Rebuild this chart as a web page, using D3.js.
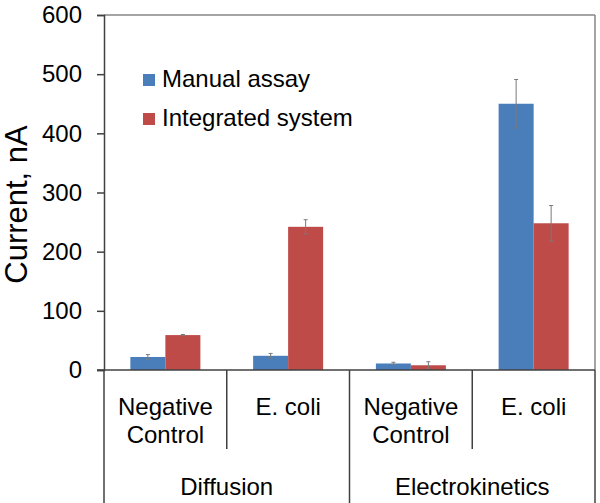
<!DOCTYPE html>
<html><head><meta charset="utf-8">
<script src="https://cdn.jsdelivr.net/npm/d3@7"></script>
<style>body{margin:0;background:#fff}svg{display:block}text{font-family:Arial,"Liberation Sans",sans-serif;fill:#000}</style>
</head><body>
<svg id="c" width="600" height="503"></svg>
<script>
const groups = ["Diffusion", "Electrokinetics"];
const categories = [["Negative", "Control"], ["E. coli"], ["Negative", "Control"], ["E. coli"]];
const seriesNames = ["Manual assay", "Integrated system"];
const manual = [22, 24, 11, 450];
const manualErr = [4, 4, 2, 41];
const integrated = [59, 242, 8, 248];
const integratedErr = [1, 12, 6, 30];
const yTicks = [0, 100, 200, 300, 400, 500, 600];
const colors = ["#4a7ebb", "#be4b48"];

const svg = d3.select("#c");
const pLeft = 104, pRight = 595, pTop = 15, pBottom = 370;
const y = d3.scaleLinear().domain([0, 600]).range([pBottom, pTop]);
const x = d3.scaleBand().domain(d3.range(categories.length)).range([pLeft, pRight]);
const sub = d3.scaleBand().domain([0, 1]).range([0, 70]);
const offset = (x.bandwidth() - 70) / 2;
const values = [manual, integrated];
const errs = [manualErr, integratedErr];

// plot border top/right
svg.append("line").attr("x1", pLeft).attr("x2", pRight).attr("y1", pTop).attr("y2", pTop).attr("stroke", "#868686").attr("stroke-width", 1.5);
svg.append("line").attr("x1", pRight).attr("x2", pRight).attr("y1", pTop).attr("y2", pBottom).attr("stroke", "#868686").attr("stroke-width", 1.5);

// y axis
const ya = svg.append("g").attr("transform", `translate(${pLeft},0)`)
  .call(d3.axisLeft(y).tickValues(yTicks).tickSize(7).tickPadding(15));
ya.select(".domain").attr("stroke", "#404040").attr("stroke-width", 1.5);
ya.selectAll(".tick line").attr("stroke", "#404040").attr("stroke-width", 1.5);
ya.selectAll(".tick text").style("font-size", "24px").style("font-family", "Arial, 'Liberation Sans', sans-serif").attr("fill", "#000");

// bars
for (let s = 0; s < 2; s++) {
  svg.append("g").selectAll("rect").data(values[s]).join("rect")
    .attr("x", (d, i) => x(i) + offset + sub(s))
    .attr("width", sub.bandwidth())
    .attr("y", d => y(d))
    .attr("height", d => y(0) - y(d))
    .attr("fill", colors[s]);
}
// error bars
for (let s = 0; s < 2; s++) {
  const g = svg.append("g").attr("stroke", "#7a7a7a").attr("stroke-width", 1);
  values[s].forEach((v, i) => {
    const cx = x(i) + offset + sub(s) + sub.bandwidth() / 2;
    const e = errs[s][i];
    g.append("line").attr("x1", cx).attr("x2", cx).attr("y1", y(v + e)).attr("y2", y(v - e));
    g.append("line").attr("x1", cx - 2).attr("x2", cx + 2).attr("y1", y(v + e)).attr("y2", y(v + e));
    g.append("line").attr("x1", cx - 2).attr("x2", cx + 2).attr("y1", y(v - e)).attr("y2", y(v - e));
  });
}

// x axis line
svg.append("line").attr("x1", pLeft - 7).attr("x2", pRight).attr("y1", pBottom).attr("y2", pBottom).attr("stroke", "#404040").attr("stroke-width", 1.5);
// separators
const seps = d3.range(categories.length + 1);
svg.append("g").selectAll("line").data(seps).join("line")
  .attr("x1", i => i < categories.length ? x(i) : pRight)
  .attr("x2", i => i < categories.length ? x(i) : pRight)
  .attr("y1", pBottom)
  .attr("y2", i => i % 2 === 0 ? 503 : 449)
  .attr("stroke", "#404040").attr("stroke-width", 1.5);

// category labels
categories.forEach((lines, i) => {
  const t = svg.append("text").attr("text-anchor", "middle").style("font-size", "24px");
  lines.forEach((l, k) => t.append("tspan").attr("x", x(i) + x.bandwidth() / 2).attr("y", 415 + k * 28).text(l));
});
groups.forEach((g, gi) => {
  svg.append("text").attr("text-anchor", "middle").style("font-size", "24px")
    .attr("x", (x(gi * 2) + x(gi * 2 + 1) + x.bandwidth()) / 2).attr("y", 495).text(g);
});

// y title
svg.append("text").attr("transform", `translate(27,${(pTop + pBottom) / 2 + 12}) rotate(-90)`)
  .attr("text-anchor", "middle").style("font-size", "31px").text("Current, nA");

// legend
seriesNames.forEach((n, i) => {
  const yy = 87 + i * 39;
  svg.append("rect").attr("x", 143).attr("y", yy - 13).attr("width", 12).attr("height", 12).attr("fill", colors[i]);
  svg.append("text").attr("x", 162).attr("y", yy).style("font-size", "24px").text(n);
});
</script>
</body></html>
